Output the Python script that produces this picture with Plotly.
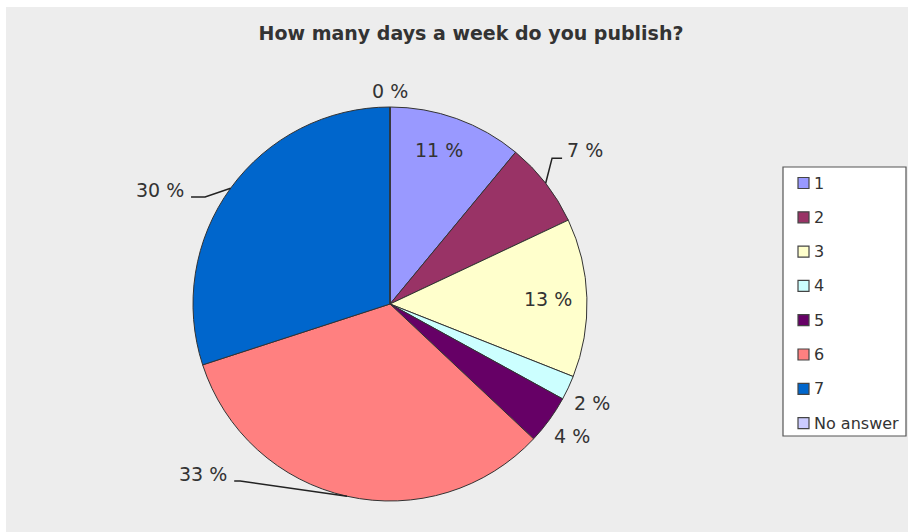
import math
import plotly.graph_objects as go

# Survey answers: share of respondents (%) per number of publishing days
categories = ["1", "2", "3", "4", "5", "6", "7", "No answer"]
shares = [11, 7, 13, 2, 4, 33, 30, 0]
colors = ["#9999FF", "#993366", "#FFFFCC", "#CCFFFF", "#660066", "#FF8080", "#0066CC", "#CCCCFF"]
title_text = "How many days a week do you publish?"

# Canvas and pie geometry (pixels)
W, H = 909, 532
CX, CY, R = 390, 304, 197
FONT = "DejaVu Sans"
TEXT_COLOR = "#333333"

# How each percentage label is placed around the pie
label_style = {
    "1": dict(mode="inside", r=0.82, ang_shift=-2),
    "2": dict(mode="leader", ang=48.7, r=1.183, side="right"),
    "3": dict(mode="inside", r=0.80, ang_shift=0),
    "4": dict(mode="near", r=1.14, ang_shift=1),
    "5": dict(mode="near", r=1.14, ang_shift=0),
    "6": dict(mode="leader", ang=223.4, r=1.188, side="left", knee=6),
    "7": dict(mode="leader", ang=299.2, r=1.186, side="left", knee=14),
    "No answer": dict(mode="near", r=1.08, ang_shift=0),
}


def px(x):
    return x / W


def py(y):
    return 1 - y / H


def polar(angle_deg, radius):
    a = math.radians(angle_deg)
    return CX + radius * math.sin(a), CY - radius * math.cos(a)


fig = go.Figure(
    go.Pie(
        labels=categories,
        values=shares,
        marker=dict(colors=colors, line=dict(color="#333333", width=1)),
        sort=False,
        direction="clockwise",
        rotation=0,
        textinfo="none",
        hoverinfo="label+percent",
        showlegend=False,
        domain=dict(x=[px(CX - R), px(CX + R)], y=[py(CY + R), py(CY - R)]),
    )
)

shapes = [
    # grey chart area
    dict(type="rect", xref="paper", yref="paper", x0=px(6), x1=px(908), y0=py(532), y1=py(7),
         fillcolor="#EDEDED", line=dict(width=0), layer="below"),
]
annotations = []

# percentage labels and leader lines, placed from the cumulative slice angles
total = sum(shares)
cum = 0
for cat, val in zip(categories, shares):
    start = cum / total * 360
    cum += val
    end = cum / total * 360
    mid = (start + end) / 2
    st = label_style[cat]
    text = f"{round(val / total * 100)} %"
    font = dict(family=FONT, size=19, color=TEXT_COLOR)
    if st["mode"] in ("inside", "near"):
        tx, ty = polar(mid + st["ang_shift"], st["r"] * R)
        annotations.append(dict(x=px(tx), y=py(ty), xref="paper", yref="paper", text=text,
                                showarrow=False, xanchor="center", yanchor="middle", font=font))
    else:
        tx, ty = polar(st["ang"], st["r"] * R)
        ex0, ey0 = polar(mid, R)
        if st["side"] == "right":
            ex, ey = tx - 3, ty + 8
            bx = ex - 10
            anchor = "left"
        else:
            ex, ey = tx + 5, ty + 7
            bx = ex + st["knee"]
            anchor = "right"
        path = f"M {px(ex0)},{py(ey0)} L {px(bx)},{py(ey)} L {px(ex)},{py(ey)}"
        shapes.append(dict(type="path", xref="paper", yref="paper", path=path,
                           line=dict(color="#222222", width=1.5), layer="above"))
        annotations.append(dict(x=px(tx), y=py(ty), xref="paper", yref="paper", text=text,
                                showarrow=False, xanchor=anchor, yanchor="middle", font=font))

# legend box with one coloured square per category
LX0, LX1, LY0, LY1 = 783, 906, 167, 436
shapes.append(dict(type="rect", xref="paper", yref="paper", x0=px(LX0), x1=px(LX1),
                   y0=py(LY1), y1=py(LY0), fillcolor="white",
                   line=dict(color="#555555", width=1.2), layer="above"))
row0, step, sq = 183, 34.3, 11
for i, (cat, col) in enumerate(zip(categories, colors)):
    yc = row0 + i * step
    shapes.append(dict(type="rect", xref="paper", yref="paper",
                       x0=px(798), x1=px(798 + sq), y0=py(yc + sq / 2), y1=py(yc - sq / 2),
                       fillcolor=col, line=dict(color="#444444", width=1.2), layer="above"))
    annotations.append(dict(x=px(812), y=py(yc), xref="paper", yref="paper", text=cat,
                            showarrow=False, xanchor="left", yanchor="middle",
                            font=dict(family=FONT, size=16, color=TEXT_COLOR)))

fig.update_layout(
    width=W,
    height=H,
    margin=dict(l=0, r=0, t=0, b=0),
    paper_bgcolor="white",
    plot_bgcolor="white",
    showlegend=False,
    title=dict(text=title_text, x=471 / W, y=1 - 33 / H, xanchor="center", yanchor="middle",
               font=dict(family=FONT, size=19, color=TEXT_COLOR, weight="bold")),
    shapes=shapes,
    annotations=annotations,
)

fig.write_html("out.html")
